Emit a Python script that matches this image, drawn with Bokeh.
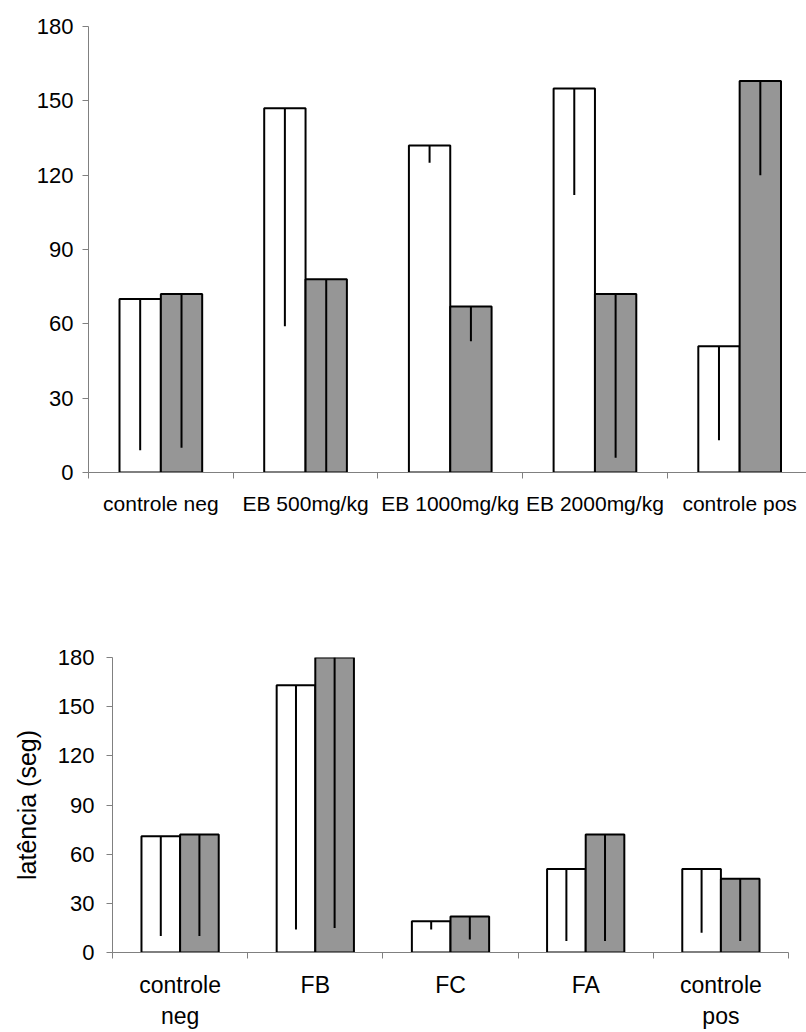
from bokeh.plotting import figure
from bokeh.layouts import column, row
from bokeh.models import Range1d, FixedTicker
from bokeh.embed import file_html
from bokeh.resources import INLINE

# ---- data ----
top_categories = ["controle neg", "EB 500mg/kg", "EB 1000mg/kg", "EB 2000mg/kg", "controle pos"]
top_white = [70, 147, 132, 155, 51]
top_white_sd = [61, 88, 7, 43, 38]
top_gray = [72, 78, 67, 72, 158]
top_gray_sd = [62, 78, 14, 66, 38]

bottom_categories = ["controle\nneg", "FB", "FC", "FA", "controle\npos"]
bottom_white = [71, 163, 19, 51, 51]
bottom_white_sd = [61, 149, 5, 44, 39]
bottom_gray = [72, 180, 22, 72, 45]
bottom_gray_sd = [62, 165, 14, 65, 38]

y_ticks = [0, 30, 60, 90, 120, 150, 180]
y_label = "latência (seg)"

FONT = "Liberation Sans"
AXIS_GRAY = "#808080"
BAR_GRAY = "#969696"
BAR_W = 0.5714  # in units where one category spans 2


def make_chart(categories, white, white_sd, gray, gray_sd, x_end, width, height,
               border_left, border_right, border_top, border_bottom,
               xlabel_size, ylabel_size, xlabel_standoff, ylabel_standoff,
               line_height=1.2, ylab=None):
    n = len(categories)
    centers = [2 * i + 1 for i in range(n)]
    bounds = [2 * i for i in range(n + 1)]
    p = figure(width=width, height=height, x_range=Range1d(0, x_end), y_range=Range1d(0, 180),
               output_backend="svg", toolbar_location=None,
               min_border_left=border_left, min_border_right=border_right,
               min_border_top=border_top, min_border_bottom=border_bottom)
    p.outline_line_color = None
    p.xgrid.visible = False
    p.ygrid.visible = False
    p.background_fill_color = "white"
    p.border_fill_color = "white"

    xw = [c - BAR_W / 2 for c in centers]
    xg = [c + BAR_W / 2 for c in centers]
    p.vbar(x=xw, top=white, bottom=0, width=BAR_W, fill_color="white",
           line_color="black", line_width=2)
    p.vbar(x=xg, top=gray, bottom=0, width=BAR_W, fill_color=BAR_GRAY,
           line_color="black", line_width=2)
    p.segment(x0=xw, y0=white, x1=xw, y1=[max(0, v - s) for v, s in zip(white, white_sd)],
              line_color="black", line_width=2)
    p.segment(x0=xg, y0=gray, x1=xg, y1=[max(0, v - s) for v, s in zip(gray, gray_sd)],
              line_color="black", line_width=2)

    xa = p.xaxis[0]
    xa.ticker = FixedTicker(ticks=centers, minor_ticks=bounds)
    xa.major_label_overrides = {c: lab for c, lab in zip(centers, categories)}
    xa.major_tick_out = 0
    xa.major_tick_in = 0
    xa.minor_tick_out = 6
    xa.minor_tick_in = 0
    xa.minor_tick_line_color = AXIS_GRAY
    xa.axis_line_color = AXIS_GRAY
    xa.major_label_text_font = FONT
    xa.major_label_text_font_size = f"{xlabel_size}px"
    xa.major_label_text_color = "black"
    xa.major_label_standoff = xlabel_standoff
    xa.major_label_text_line_height = line_height

    ya = p.yaxis[0]
    ya.ticker = FixedTicker(ticks=y_ticks, minor_ticks=[])
    ya.major_tick_out = 6
    ya.major_tick_in = 0
    ya.major_tick_line_color = AXIS_GRAY
    ya.axis_line_color = AXIS_GRAY
    ya.major_label_text_font = FONT
    ya.major_label_text_font_size = f"{ylabel_size}px"
    ya.major_label_text_color = "black"
    ya.major_label_standoff = ylabel_standoff
    if ylab:
        ya.axis_label = ylab
        ya.axis_label_text_font = FONT
        ya.axis_label_text_font_size = "25px"
        ya.axis_label_text_font_style = "normal"
        ya.axis_label_text_color = "black"
        ya.axis_label_standoff = 14
    return p


p1 = make_chart(top_categories, top_white, top_white_sd, top_gray, top_gray_sd,
                x_end=9.924, width=806, height=560,
                border_left=88, border_right=0, border_top=26, border_bottom=88,
                xlabel_size=21, ylabel_size=22, xlabel_standoff=13, ylabel_standoff=9)

p2 = make_chart(bottom_categories, bottom_white, bottom_white_sd, bottom_gray, bottom_gray_sd,
                x_end=10, width=806, height=472,
                border_left=112, border_right=18, border_top=97, border_bottom=80,
                xlabel_size=23, ylabel_size=22, xlabel_standoff=13, ylabel_standoff=12,
                line_height=1.2, ylab=y_label)

layout = column(row(p1), row(p2), spacing=0)
open("out.html", "w").write(file_html(layout, INLINE))
